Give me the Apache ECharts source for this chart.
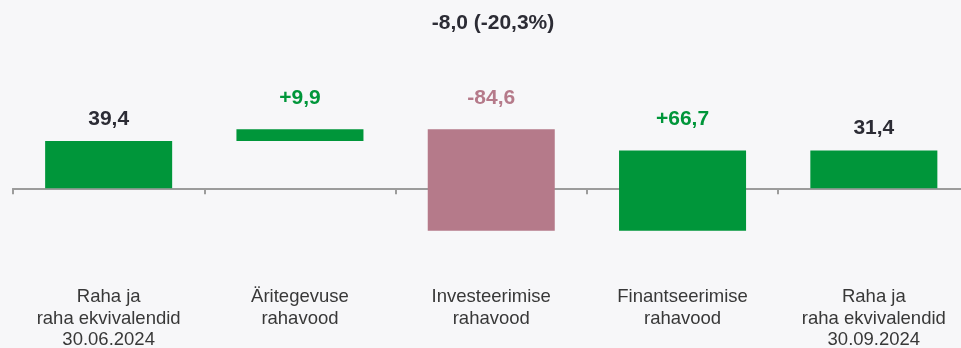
<!DOCTYPE html>
<html>
<head>
<meta charset="utf-8">
<script src="https://cdn.jsdelivr.net/npm/echarts@6/dist/echarts.min.js"></script>
<style>
  html, body { margin: 0; padding: 0; background: #f7f7f9; }
  #chart { width: 961px; height: 348px; }
</style>
</head>
<body>
<div id="chart"></div>
<script>
// Cash-flow bridge, EUR million
const categories = [
  'Raha ja\nraha ekvivalendid\n30.06.2024',
  'Äritegevuse\nrahavood',
  'Investeerimise\nrahavood',
  'Finantseerimise\nrahavood',
  'Raha ja\nraha ekvivalendid\n30.09.2024'
];
const openingBalance = 39.4;
const flows = [9.9, -84.6, 66.7];
const closingBalance = 31.4;

const GREEN = '#00963a';
const MAUVE = '#b57a8a';
const DARK = '#2c2c35';
const FONT = '"Liberation Sans", Arial, sans-serif';

const fmt = v => v.toFixed(1).replace('.', ',');

// Build [index, from, to, kind, value] rows for the waterfall
const rows = [];
rows.push([0, 0, openingBalance, 'total', openingBalance]);
let running = openingBalance;
flows.forEach((f, k) => {
  rows.push([k + 1, running, running + f, 'flow', f]);
  running += f;
});
rows.push([categories.length - 1, 0, closingBalance, 'total', closingBalance]);

const net = closingBalance - openingBalance;
const netPct = net / openingBalance * 100;
const headline = fmt(net) + ' (' + fmt(netPct) + '%)';

function renderItem(params, api) {
  const row = rows[params.dataIndex];
  const a = api.coord([api.value(0), api.value(1)]);
  const b = api.coord([api.value(0), api.value(2)]);
  const w = api.size([1, 0])[0] * 0.664;
  const top = Math.min(a[1], b[1]);
  const h = Math.abs(a[1] - b[1]);
  const isTotal = row[3] === 'total';
  const v = row[4];
  const fill = isTotal || v >= 0 ? GREEN : MAUVE;
  const text = isTotal ? fmt(v) : (v > 0 ? '+' : '') + fmt(v);
  const labelColor = isTotal ? DARK : fill;
  return {
    type: 'group',
    children: [
      { type: 'rect', shape: { x: a[0] - w / 2, y: top, width: w, height: h }, style: { fill: fill } },
      {
        type: 'text', x: a[0], y: top - (isTotal ? 22 : 31),
        style: {
          text: text, fill: labelColor, align: 'center', verticalAlign: 'middle',
          fontSize: 21, fontWeight: 'bold', fontFamily: FONT
        }
      }
    ]
  };
}

const chart = echarts.init(document.getElementById('chart'), null, { renderer: 'canvas' });
chart.setOption({
  backgroundColor: '#f7f7f9',
  animation: false,
  title: {
    text: headline,
    left: 488,
    top: 8,
    textAlign: 'center',
    textStyle: { color: DARK, fontSize: 21, fontWeight: 'bold', fontFamily: FONT }
  },
  grid: {
    left: 13, right: -8.5, top: 92.3, height: 168,
    containLabel: false, outerBoundsMode: 'none'
  },
  xAxis: [{
    // zero line with boundary ticks
    type: 'category',
    data: categories,
    axisLine: { onZero: true, lineStyle: { color: '#9c9c9c', width: 2 } },
    axisTick: { show: true, length: 6, lineStyle: { color: '#9c9c9c', width: 2 } },
    axisLabel: { show: false },
    splitLine: { show: false }
  }, {
    // category names along the bottom
    type: 'category',
    data: categories,
    position: 'bottom',
    axisLine: { show: false, onZero: false },
    axisTick: { show: false },
    axisLabel: {
      margin: 26, color: '#383838', fontSize: 18.5, lineHeight: 21.5,
      fontFamily: FONT, align: 'center', interval: 0
    },
    splitLine: { show: false }
  }],
  yAxis: {
    type: 'value', min: -60, max: 80, show: false,
    splitLine: { show: false }
  },
  series: [{
    type: 'custom',
    renderItem: renderItem,
    encode: { x: 0, y: [1, 2] },
    data: rows.map(r => [r[0], r[1], r[2]])
  }]
});
</script>
</body>
</html>
